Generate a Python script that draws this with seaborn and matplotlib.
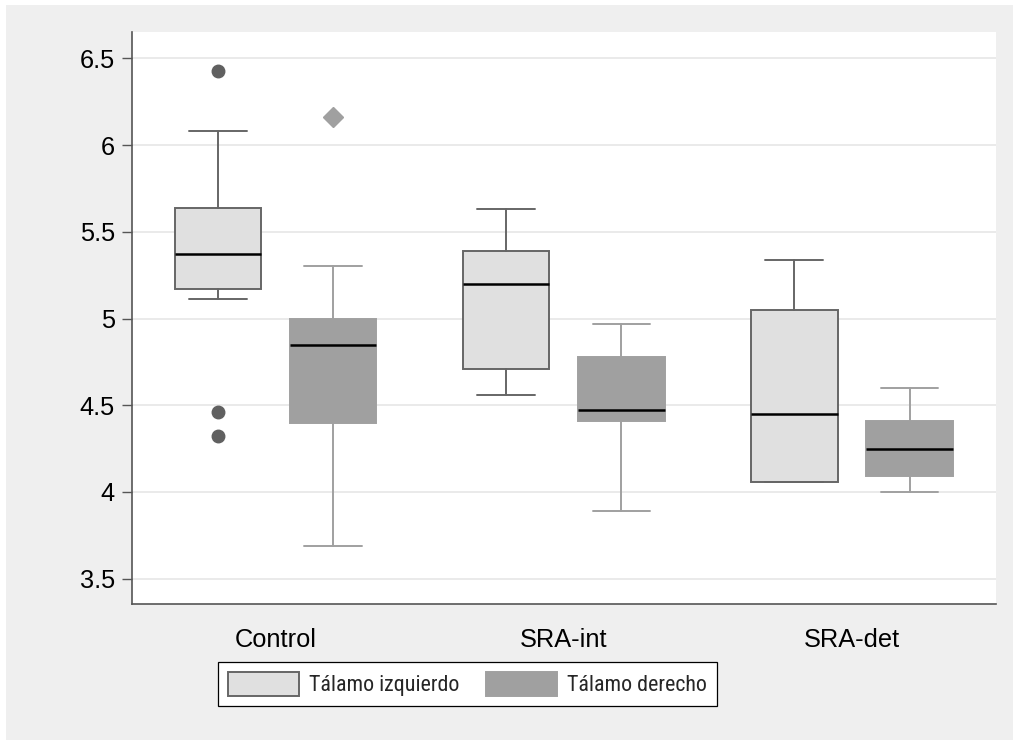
import matplotlib
matplotlib.use("Agg")
import matplotlib.pyplot as plt
from matplotlib.patches import Patch, Rectangle
from matplotlib import font_manager
import seaborn as sns

# Groups and series
groups = ["Control", "SRA-int", "SRA-det"]
series = ["Tálamo izquierdo", "Tálamo derecho"]

# Five-number summaries per group: left thalamus
izq_whislo = [5.11, 4.56, 4.06]
izq_q1 = [5.17, 4.71, 4.06]
izq_med = [5.37, 5.20, 4.45]
izq_q3 = [5.64, 5.39, 5.05]
izq_whishi = [6.08, 5.63, 5.34]
izq_fliers = [[6.43, 4.46, 4.32], [], []]

# Five-number summaries per group: right thalamus
der_whislo = [3.69, 3.89, 4.00]
der_q1 = [4.40, 4.41, 4.09]
der_med = [4.85, 4.47, 4.25]
der_q3 = [5.00, 4.78, 4.41]
der_whishi = [5.30, 4.97, 4.60]
der_fliers = [[6.16], [], []]

y_ticks = [3.5, 4, 4.5, 5, 5.5, 6, 6.5]
y_ticklabels = ["3.5", "4", "4.5", "5", "5.5", "6", "6.5"]

sns.set_theme(style="whitegrid")
plt.rcParams["font.family"] = ["Liberation Sans", "DejaVu Sans"]

LIGHT = "#e0e0e0"
LIGHT_EDGE = "#666666"
DARK = "#a0a0a0"
PANEL = "#efefef"
DPI = 100

fig = plt.figure(figsize=(10.13, 7.42), dpi=DPI, facecolor="white")
fig.patches.append(Rectangle((6 / 1013, 2 / 742), 1 - 6 / 1013, 1 - 7 / 742,
                             transform=fig.transFigure, facecolor=PANEL,
                             edgecolor="none", zorder=-10))

ax = fig.add_axes([131.5 / 1013, 138 / 742, (996 - 131.5) / 1013, (604 - 32) / 742])
ax.set_facecolor("white")


def stats_for(wl, q1, med, q3, wh, fl):
    return [dict(whislo=a, q1=b, med=c, q3=d, whishi=e, fliers=f)
            for a, b, c, d, e, f in zip(wl, q1, med, q3, wh, fl)]


izq_stats = stats_for(izq_whislo, izq_q1, izq_med, izq_q3, izq_whishi, izq_fliers)
der_stats = stats_for(der_whislo, der_q1, der_med, der_q3, der_whishi, der_fliers)

offset = 0.2
width = 0.30
capw = 0.2
pos = list(range(len(groups)))
LW = 1.4

ax.bxp(izq_stats, positions=[p - offset for p in pos], widths=width,
       capwidths=capw, patch_artist=True, manage_ticks=False,
       boxprops=dict(facecolor=LIGHT, edgecolor=LIGHT_EDGE, linewidth=LW),
       medianprops=dict(color="black", linewidth=1.8, solid_capstyle="butt"),
       whiskerprops=dict(color=LIGHT_EDGE, linewidth=LW),
       capprops=dict(color=LIGHT_EDGE, linewidth=LW),
       flierprops=dict(marker="o", markersize=9, markerfacecolor="#606060",
                       markeredgecolor="#606060"))

ax.bxp(der_stats, positions=[p + offset for p in pos], widths=width,
       capwidths=capw, patch_artist=True, manage_ticks=False,
       boxprops=dict(facecolor=DARK, edgecolor=DARK, linewidth=LW),
       medianprops=dict(color="black", linewidth=1.8, solid_capstyle="butt"),
       whiskerprops=dict(color=DARK, linewidth=LW),
       capprops=dict(color=DARK, linewidth=LW),
       flierprops=dict(marker="D", markersize=10, markerfacecolor=DARK,
                       markeredgecolor=DARK))

ax.set_xlim(-0.5, len(groups) - 0.5)
ax.set_ylim(3.354, 6.652)
ax.set_xticks(pos)
ax.set_xticklabels(groups)
ax.set_yticks(y_ticks)
ax.set_yticklabels(y_ticklabels)

ax.grid(axis="y", color="#e6e6e6", linewidth=1.2)
ax.grid(axis="x", visible=False)
ax.set_axisbelow(True)

for side in ["top", "right"]:
    ax.spines[side].set_visible(False)
for side in ["left", "bottom"]:
    ax.spines[side].set_visible(True)
    ax.spines[side].set_color("#555555")
    ax.spines[side].set_linewidth(1.2)

ax.tick_params(axis="y", left=True, length=7, width=1.0, color="#555555",
               pad=5, labelsize=18.3, labelcolor="black")
ax.tick_params(axis="x", bottom=False, length=0, pad=17, labelsize=18.3,
               labelcolor="black")

# Legend font: prefer a condensed face, sized so the first label spans ~150 px
available = {f.name for f in font_manager.fontManager.ttflist}
legend_family = "Liberation Sans"
for cand in ["Liberation Sans Narrow", "Arial Narrow", "Roboto Condensed",
             "Open Sans Condensed"]:
    if cand in available:
        legend_family = cand
        break

renderer = fig.canvas.get_renderer()
probe = fig.text(0, 0, series[0], family=legend_family, size=16.6)
probe_w = probe.get_window_extent(renderer).width
probe.remove()
leg_size = min(19.0, 16.6 * 150.0 / probe_w)
fs_px = leg_size * DPI / 72.0

handles = [Patch(facecolor=LIGHT, edgecolor=LIGHT_EDGE, linewidth=1.4, label=series[0]),
           Patch(facecolor=DARK, edgecolor=DARK, linewidth=1.4, label=series[1])]
leg = fig.legend(handles=handles, loc="upper left",
                 bbox_to_anchor=(218 / 1013, (742 - 662) / 742), ncol=2,
                 frameon=True, fancybox=False, framealpha=1, facecolor="white",
                 edgecolor="black", borderpad=10.0 / fs_px,
                 handlelength=71.0 / fs_px, handleheight=28.0 / fs_px,
                 handletextpad=10.0 / fs_px, columnspacing=27.0 / fs_px,
                 borderaxespad=0,
                 prop=dict(family=legend_family, size=leg_size))
leg.get_frame().set_linewidth(0.9)

fig.savefig("out.png", dpi=DPI, facecolor="white")
